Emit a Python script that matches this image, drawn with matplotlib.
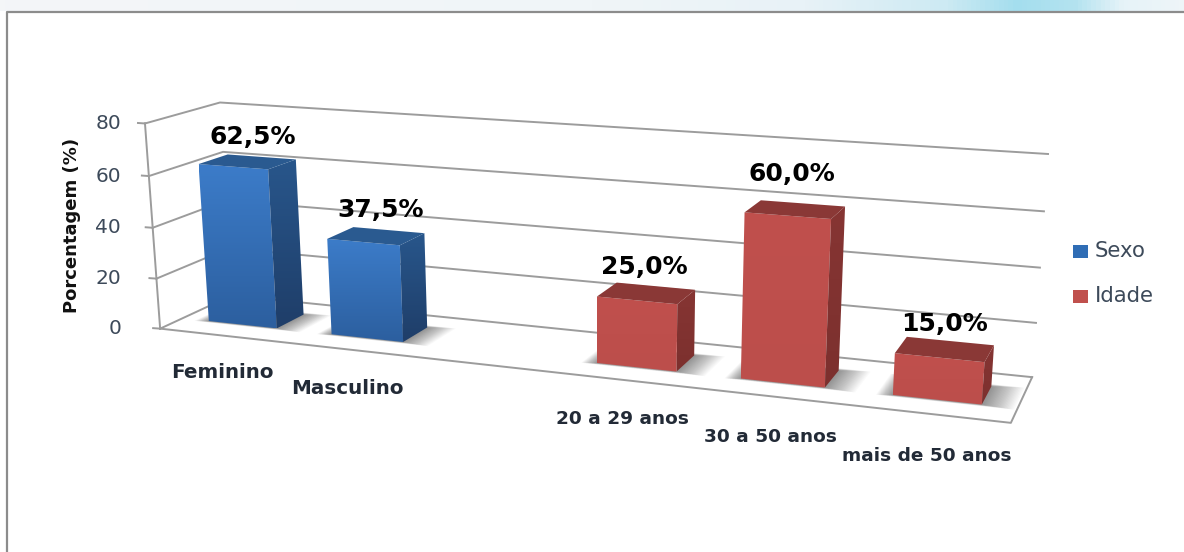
import numpy as np
import matplotlib
matplotlib.use('Agg')
import matplotlib.pyplot as plt
from matplotlib.patches import Polygon, Rectangle
from matplotlib.colors import LinearSegmentedColormap

# Data
categories = ['Feminino', 'Masculino', '', '20 a 29 anos', '30 a 50 anos', 'mais de 50 anos']
sexo = [62.5, 37.5, None, None, None, None]
idade = [None, None, None, 25.0, 60.0, 15.0]
value_labels = ['62,5%', '37,5%', '', '25,0%', '60,0%', '15,0%']
y_ticks = [0, 20, 40, 60, 80]
series_names = ['Sexo', 'Idade']
y_title = 'Porcentagem (%)'

# Text places, in picture pixels
value_label_xy = [(253, 137), (381, 210), None, (644, 267), (792, 174), (945, 324)]
cat_label_xy = [(222, 373), (347, 389), None, (622, 419), (770, 437), (927, 456)]

# 3D box corners (slot, depth, value) and where they land in the picture
corners = [(0, 0, 0), (0, 0, 80), (0, 1, 0), (0, 1, 80), (6, 1, 0), (6, 1, 80), (6, 0, 0)]
corner_px = [(160, 328), (145, 124), (232, 296), (220, 102), (1032, 377), (1048, 154), (1011, 423)]

bar_width = 0.56
bar_d0, bar_d1 = 0.30, 0.70

rows, rhs = [], []
for (x, d, z), (u, v) in zip(corners, corner_px):
    rows.append([x, d, z / 80, 1, 0, 0, 0, 0, -u * x, -u * d, -u * z / 80])
    rhs.append(u)
    rows.append([0, 0, 0, 0, x, d, z / 80, 1, -v * x, -v * d, -v * z / 80])
    rhs.append(v)
sol = np.linalg.lstsq(np.array(rows, float), np.array(rhs, float), rcond=None)[0]
P = np.append(sol, 1).reshape(3, 4)


def proj(x, d, z):
    p = P @ np.array([x, d, z / 80, 1])
    return p[0] / p[2], p[1] / p[2]


fig = plt.figure(figsize=(11.84, 5.52), dpi=100)
ax = fig.add_axes([0, 0, 1, 1])


def grad_face(pts, c_top, c_bot, zorder):
    poly = Polygon(pts, closed=True, fc='none', ec='none', zorder=zorder)
    ax.add_patch(poly)
    xs, ys = zip(*pts)
    cmap = LinearSegmentedColormap.from_list('f', [c_top, c_bot])
    im = ax.imshow(np.linspace(0, 1, 64).reshape(-1, 1), cmap=cmap, aspect='auto',
                   extent=(min(xs), max(xs), max(ys), min(ys)), zorder=zorder)
    im.set_clip_path(poly)


# Window strip above the chart
strip = LinearSegmentedColormap.from_list('s', [(0, '#f4f6f8'), (0.5, '#f0f5f8'), (0.68, '#e8f2f7'),
                                                (0.80, '#cdeaf3'), (0.86, '#a4deee'), (0.91, '#b4e3f0'),
                                                (0.95, '#e6f3f8'), (1, '#eef5f8')])
ax.imshow(np.linspace(0, 1, 256).reshape(1, -1), cmap=strip, aspect='auto', extent=(0, 1184, 11, 0), zorder=0)
ax.plot([7, 7, 1184], [552, 11.5, 11.5], color='#8c8c8c', lw=1.6, zorder=1)

# Walls
grid_c = '#9c9c9c'
for t in y_ticks:
    a, b, c = proj(0, 0, t), proj(0, 1, t), proj(6, 1, t)
    ax.plot([a[0], b[0], c[0]], [a[1], b[1], c[1]], color=grid_c, lw=1.4, zorder=2)
    ax.plot([a[0] - 7, a[0]], [a[1] - 0.5, a[1]], color=grid_c, lw=1.4, zorder=2)
    ax.text(121, a[1], str(t), ha='right', va='center', fontsize=14.5, color='#3d4a5a', zorder=8)
a, b = proj(0, 0, 0), proj(0, 0, 80)
ax.plot([a[0], b[0]], [a[1], b[1]], color=grid_c, lw=1.4, zorder=2)
front = [proj(0, 0, 0), proj(6, 0, 0), proj(6, 1, 0)]
ax.plot(*zip(*front), color=grid_c, lw=1.4, zorder=2)

# Bars
blue = ('#3c7cc9', '#2c5f9f', '#28568b', '#1f3e69', '#2a5a90')
red = ('#c0504d', '#bc4e4b', '#863533', '#7c302e', '#8a3836')
for i in range(len(categories)):
    val = sexo[i] if sexo[i] is not None else idade[i]
    if val is None:
        continue
    cols = blue if sexo[i] is not None else red
    x0, x1 = i + 0.5 - bar_width / 2, i + 0.5 + bar_width / 2
    # soft shadow on the floor
    n = 24
    for k in range(n):
        e = 0.17 * (n - k) / n
        shadow = [proj(x0 - e * 0.6, bar_d0 - e * 0.2, 0), proj(x1 + e * 1.2, bar_d0 - e * 0.2, 0),
                  proj(x1 + e * 1.2, bar_d1 + e * 0.3, 0), proj(x0 - e * 0.6, bar_d1 + e * 0.3, 0)]
        ax.add_patch(Polygon(shadow, closed=True, fc='black', ec='none', alpha=0.018, lw=0, zorder=3))
    z_front = 4 + i * 0.01
    fr = [proj(x0, bar_d0, val), proj(x1, bar_d0, val), proj(x1, bar_d0, 0), proj(x0, bar_d0, 0)]
    side = [proj(x1, bar_d0, val), proj(x1, bar_d1, val), proj(x1, bar_d1, 0), proj(x1, bar_d0, 0)]
    top = [proj(x0, bar_d0, val), proj(x1, bar_d0, val), proj(x1, bar_d1, val), proj(x0, bar_d1, val)]
    grad_face(fr, cols[0], cols[1], z_front)
    grad_face(side, cols[2], cols[3], z_front)
    ax.add_patch(Polygon(top, closed=True, fc=cols[4], ec='none', zorder=z_front))
    lx, ly = value_label_xy[i]
    ax.text(lx, ly, value_labels[i], ha='center', va='center', fontsize=18, fontweight='bold',
            color='black', zorder=9)
    cx, cy = cat_label_xy[i]
    ax.text(cx, cy, categories[i], ha='center', va='center', fontsize=14.3 if i < 2 else 13.3,
            fontweight='bold', color='#222a36', zorder=9)

ax.text(72, 225, y_title, rotation=90, ha='center', va='center', fontsize=13, fontweight='bold',
        color='#111111', zorder=9)

# Legend
for name, col, y in zip(series_names, ['#2f6db5', '#c0504d'], [251, 296]):
    ax.add_patch(Rectangle((1073, y - 6.5), 15, 13, fc=col, ec='none', zorder=9))
    ax.text(1095, y, name, ha='left', va='center', fontsize=15.3, color='#3d4a5a', zorder=9)

ax.set_xlim(0, 1184)
ax.set_ylim(552, 0)
ax.axis('off')
fig.savefig('out.png', dpi=100, facecolor='white')
